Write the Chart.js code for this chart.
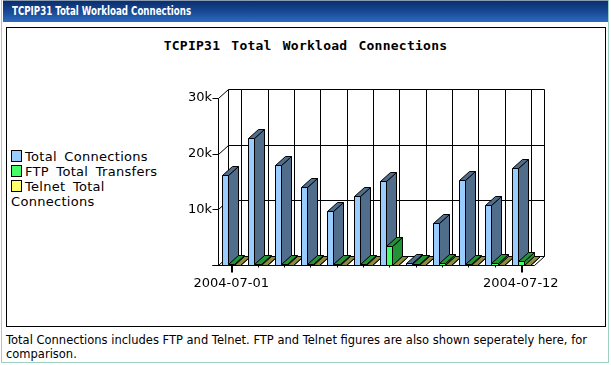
<!DOCTYPE html>
<html>
<head>
<meta charset="utf-8">
<script src="https://cdn.jsdelivr.net/npm/chart.js@4.4.1/dist/chart.umd.min.js"></script>
<style>
  html, body { margin: 0; padding: 0; background: #fff; }
  body { width: 611px; height: 365px; position: relative; overflow: hidden; font-family: "DejaVu Sans", sans-serif; }
  #panel { position: absolute; left: 1px; top: 0; width: 606px; height: 362px; border: 1px solid #9fcfbf; border-top: none; }
  #header { position: absolute; left: 3px; top: 0; width: 605px; height: 22px;
    background: linear-gradient(#0a2e6e, #1b4f9c 60%, #2d6cbf); border-top: 1px solid #8a9ab0; box-sizing: border-box; }
  #header span { position: absolute; left: 9px; top: 3px; color: #fff; white-space: nowrap; transform-origin: 0 0;
    font: bold 12px "DejaVu Sans Condensed", "DejaVu Sans", sans-serif; }
  #box { position: absolute; left: 6px; top: 27px; width: 598px; height: 298px; border: 1px solid #000; }
  #title { position: absolute; left: 7px; top: 38px; width: 597px; text-align: center;
    font: bold 13px "DejaVu Sans Mono", monospace; word-spacing: 3px; letter-spacing: 0.25px; }
  #legend { position: absolute; left: 11px; top: 149px; width: 165px; font-size: 13px; line-height: 15px; word-spacing: 3px; letter-spacing: 0.3px; }
  #legend .sw { display: inline-block; width: 9px; height: 10px; border: 1px solid #000; margin-right: 3px; vertical-align: -1px; }
  #chart { position: absolute; left: 7px; top: 28px; }
  #note { position: absolute; left: 6px; top: 333px; width: 600px; font: 11.5px "DejaVu Sans", sans-serif; line-height: 14px; }
</style>
</head>
<body>
<div id="panel"></div>
<div id="header"><span id="htext">TCPIP31 Total Workload Connections</span></div>
<div id="box"></div>
<div id="title">TCPIP31 Total Workload Connections</div>
<div id="legend"></div>
<canvas id="chart" width="597" height="297"></canvas>
<div id="note">Total Connections includes FTP and Telnet. FTP and Telnet figures are also shown seperately here, for comparison.</div>
<script>
const dates = ["2004-07-01", "2004-07-02", "2004-07-03", "2004-07-04", "2004-07-05", "2004-07-06",
  "2004-07-07", "2004-07-08", "2004-07-09", "2004-07-10", "2004-07-11", "2004-07-12"];
const totalConnections = [16100, 22800, 17900, 14000, 9700, 12400, 15100, 300, 7500, 15300, 10700, 17400];
const ftpTransfers = [150, 150, 150, 150, 150, 150, 3400, 100, 400, 150, 400, 700];
const telnetConnections = [20, 20, 20, 20, 20, 20, 20, 20, 20, 20, 20, 20];
const seriesNames = ["Total Connections", "FTP Total Transfers", "Telnet Total Connections"];
const yTicks = [0, 10000, 20000, 30000];

// front / side colours per series
const fronts = ["#99ccff", "#44ff66", "#ffff66"];
const sides = ["#506e8c", "#239236", "#8e8a3e"];

const DX = 10, DY = 9;

// header text is a narrow bold face in the original, squeeze ours to the same width
const htext = document.getElementById("htext");
htext.style.transform = "scaleX(" + (179 / htext.offsetWidth) + ")";

// html legend (wraps like the original)
const legend = document.getElementById("legend");
seriesNames.forEach((name, i) => {
  const d = document.createElement("div");
  d.innerHTML = '<span class="sw" style="background:' + fronts[i] + '"></span>' + name;
  legend.appendChild(d);
});

function line(ctx, x1, y1, x2, y2) {
  ctx.beginPath();
  ctx.moveTo(x1, y1);
  ctx.lineTo(x2, y2);
  ctx.stroke();
}

function poly(ctx, pts, fill) {
  ctx.beginPath();
  ctx.moveTo(pts[0][0], pts[0][1]);
  for (let i = 1; i < pts.length; i++) ctx.lineTo(pts[i][0], pts[i][1]);
  ctx.closePath();
  ctx.fillStyle = fill;
  ctx.fill();
  ctx.stroke();
}

const box3d = {
  id: "box3d",
  beforeDatasetsDraw(chart) {
    const ctx = chart.ctx;
    const a = chart.chartArea;
    const xs = chart.scales.x, ys = chart.scales.y;
    const L = Math.round(a.left) + 0.5, R = Math.round(a.right) + 0.5;
    const T = Math.round(a.top) + 0.5, B = Math.round(a.bottom) + 0.5;
    ctx.save();
    ctx.strokeStyle = "#000";
    ctx.lineWidth = 1;

    // back wall grid + diagonals + front ticks
    yTicks.forEach(v => {
      const y = Math.round(ys.getPixelForValue(v)) + 0.5;
      line(ctx, L + DX, y - DY, R + DX, y - DY);
      line(ctx, L, y, L + DX, y - DY);
      line(ctx, L - 6, y, L, y);
    });
    line(ctx, L + DX, T - DY, L + DX, B - DY);
    line(ctx, R + DX, T - DY, R + DX, B - DY);
    dates.forEach((d, i) => {
      const x = Math.round(xs.getPixelForValue(i)) + 0.5;
      line(ctx, x + DX, T - DY, x + DX, B - DY);
    });

    // front axis and floor
    line(ctx, L, T, L, B);
    line(ctx, L - 6, B, R, B);
    line(ctx, R, B, R + DX, B - DY);

    // x tick marks
    dates.forEach((d, i) => {
      const x = Math.round(xs.getPixelForValue(i));
      const big = i === 0 || i === dates.length - 1;
      ctx.fillStyle = "#000";
      ctx.fillRect(x, B, big ? 2 : 1, big ? 7 : 2);
    });

    // 3d bars
    const metas = chart.data.datasets.map((ds, i) => chart.getDatasetMeta(i));
    dates.forEach((d, i) => {
      metas.forEach((meta, s) => {
        const bar = meta.data[i];
        const x0 = Math.round(bar.x - bar.width / 2) + 0.5;
        const x1 = Math.round(bar.x + bar.width / 2) + 0.5;
        const yt = Math.round(bar.y) + 0.5;
        const yb = Math.round(bar.base) + 0.5;
        poly(ctx, [[x1, yt], [x1 + DX, yt - DY], [x1 + DX, yb - DY], [x1, yb]], sides[s]);
        poly(ctx, [[x0, yt], [x0 + DX, yt - DY], [x1 + DX, yt - DY], [x1, yt]], sides[s]);
        if (yb - yt >= 1) poly(ctx, [[x0, yt], [x1, yt], [x1, yb], [x0, yb]], fronts[s]);
      });
    });
    ctx.restore();
    return false;
  }
};

new Chart(document.getElementById("chart"), {
  type: "bar",
  data: {
    labels: dates,
    datasets: [
      { label: seriesNames[0], data: totalConnections, backgroundColor: fronts[0] },
      { label: seriesNames[1], data: ftpTransfers, backgroundColor: fronts[1] },
      { label: seriesNames[2], data: telnetConnections, backgroundColor: fronts[2] }
    ]
  },
  options: {
    responsive: false,
    animation: false,
    devicePixelRatio: 1,
    layout: { padding: { left: 171, right: 70, top: 70, bottom: 30 } },
    datasets: { bar: { categoryPercentage: 0.684, barPercentage: 1 } },
    plugins: { legend: { display: false }, title: { display: false }, tooltip: { enabled: false } },
    scales: {
      x: {
        grid: { display: false, drawTicks: false },
        border: { display: false },
        afterFit(scale) { scale.height = 30; },
        ticks: {
          autoSkip: false, maxRotation: 0, padding: 11, color: "#000",
          font: { family: "DejaVu Sans", size: 13 },
          callback(v, i) { return (i === 0 || i === dates.length - 1) ? dates[i] : ""; }
        }
      },
      y: {
        min: 0, max: 30000,
        grid: { display: false, drawTicks: false },
        border: { display: false },
        afterFit(scale) { scale.width = 40; },
        afterBuildTicks(scale) { scale.ticks = yTicks.map(v => ({ value: v })); },
        ticks: {
          padding: 6, color: "#000",
          font: { family: "DejaVu Sans", size: 13 },
          callback(v) { return v === 0 ? "" : (v / 1000) + "k"; }
        }
      }
    }
  },
  plugins: [box3d]
});
</script>
</body>
</html>
